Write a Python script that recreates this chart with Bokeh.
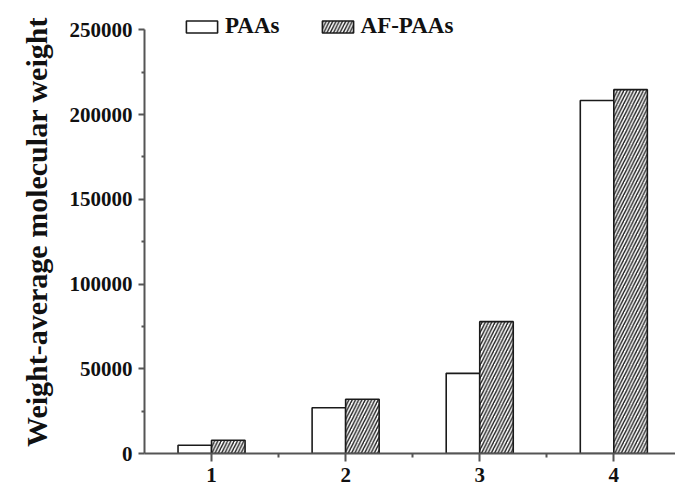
from bokeh.plotting import figure
from bokeh.models import (ColumnDataSource, FixedTicker, Range1d, Legend, LegendItem,
                          NumeralTickFormatter)
from bokeh.transform import dodge
from bokeh.embed import file_html
from bokeh.resources import INLINE

samples = [1, 2, 3, 4]
tick_labels = ["1", "2", "3", "4"]
paas = [4900, 27000, 47300, 208300]
af_paas = [7800, 32000, 77800, 214700]
y_title = "Weight-average molecular weight"

src = ColumnDataSource(dict(x=samples, paas=paas, af=af_paas))

FONT = "Liberation Serif"

p = figure(width=675, height=487, output_backend="svg", toolbar_location=None,
           x_range=Range1d(0.5, 4.46), y_range=Range1d(0, 261400),
           min_border_left=144, min_border_right=0, min_border_top=10, min_border_bottom=34)
p.outline_line_color = None
p.xgrid.visible = False
p.ygrid.visible = False

r1 = p.vbar(x=dodge("x", -0.125, range=p.x_range), top="paas", width=0.25, source=src,
            fill_color="white", line_color="#1a1a1a", line_width=1.6)
r2 = p.vbar(x=dodge("x", 0.125, range=p.x_range), top="af", width=0.25, source=src,
            fill_color="white", line_color="#1a1a1a", line_width=1.6,
            hatch_pattern="right_diagonal_line", hatch_color="#222222",
            hatch_scale=6.5, hatch_weight=1.4)

for ax in (p.xaxis[0], p.yaxis[0]):
    ax.axis_line_color = "#555555"
    ax.axis_line_width = 2
    ax.major_tick_line_color = "#555555"
    ax.major_tick_line_width = 2
    ax.minor_tick_line_color = "#555555"
    ax.minor_tick_line_width = 2
    ax.major_tick_in = 0
    ax.minor_tick_in = 0
    ax.major_label_text_font = FONT
    ax.major_label_text_font_style = "bold"
    ax.major_label_text_font_size = "21px"
    ax.major_label_text_color = "#111111"

p.xaxis.ticker = FixedTicker(ticks=samples, minor_ticks=[1.5, 2.5, 3.5])
p.xaxis.major_label_overrides = {s: t for s, t in zip(samples, tick_labels)}
p.xaxis.major_tick_out = 8
p.xaxis.minor_tick_out = 4
p.xaxis.major_label_standoff = 6

p.yaxis.ticker = FixedTicker(ticks=[0, 50000, 100000, 150000, 200000, 250000],
                             minor_ticks=[25000, 75000, 125000, 175000, 225000])
p.yaxis.bounds = (0, 250000)
p.yaxis.formatter = NumeralTickFormatter(format="0")
p.yaxis.major_tick_out = 6
p.yaxis.minor_tick_out = 3
p.yaxis.major_label_standoff = 6
p.yaxis.axis_label = y_title
p.yaxis.axis_label_text_font = FONT
p.yaxis.axis_label_text_font_style = "bold"
p.yaxis.axis_label_text_font_size = "30px"
p.yaxis.axis_label_text_color = "#111111"
p.yaxis.axis_label_standoff = 14

legend = Legend(items=[LegendItem(label="PAAs", renderers=[r1]),
                       LegendItem(label="AF-PAAs", renderers=[r2])],
                orientation="horizontal", location=(38, 414),
                glyph_width=39, glyph_height=15, label_standoff=4, spacing=38,
                padding=0, margin=0, border_line_color=None,
                background_fill_alpha=0,
                label_text_font=FONT, label_text_font_style="bold",
                label_text_font_size="23px", label_text_color="#111111")
p.add_layout(legend, "center")

open("out.html", "w").write(file_html(p, INLINE))
